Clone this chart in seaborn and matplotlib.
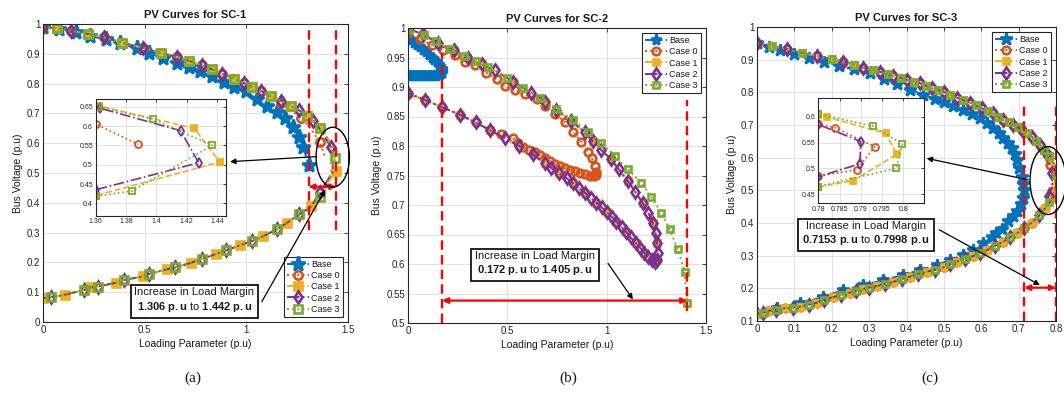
import matplotlib
matplotlib.use("Agg")
import matplotlib.pyplot as plt
from matplotlib.patches import Ellipse
from matplotlib.ticker import FuncFormatter
import seaborn as sns

# ---------------------------------------------------------------- data
NAMES = ["Base", "Case 0", "Case 1", "Case 2", "Case 3"]

# SC-1
A_BASE_X = [0.00, 0.08, 0.16, 0.23, 0.31, 0.38, 0.46, 0.52, 0.59, 0.66, 0.72, 0.77,
            0.83, 0.89, 0.94, 1.00, 1.05, 1.10, 1.15, 1.19, 1.23, 1.26, 1.28, 1.306]
A_BASE_Y = [0.990, 0.983, 0.972, 0.960, 0.948, 0.935, 0.918, 0.902, 0.885, 0.868, 0.855, 0.842,
            0.826, 0.806, 0.790, 0.774, 0.748, 0.725, 0.705, 0.683, 0.655, 0.622, 0.587, 0.527]
A_UP_X = [0.00, 0.07, 0.14, 0.22, 0.30, 0.39, 0.49, 0.58, 0.66, 0.72, 0.78, 0.83,
          0.88, 0.94, 0.99, 1.03, 1.07, 1.12, 1.17, 1.22, 1.26, 1.30, 1.33]
A_UP_Y = [0.990, 0.985, 0.977, 0.967, 0.955, 0.937, 0.920, 0.903, 0.889, 0.876, 0.862, 0.848,
          0.833, 0.817, 0.801, 0.788, 0.776, 0.757, 0.743, 0.724, 0.710, 0.692, 0.675]
A_C0_SPLIT = 18
A_C0_TAIL_X = [1.17, 1.22, 1.27, 1.31, 1.36, 1.388]
A_C0_TAIL_Y = [0.735, 0.710, 0.684, 0.655, 0.605, 0.553]
A_C1_NOSE_X = [1.362, 1.425, 1.442, 1.360]
A_C1_NOSE_Y = [0.652, 0.594, 0.507, 0.420]
A_C2_NOSE_X = [1.363, 1.416, 1.428, 1.360]
A_C2_NOSE_Y = [0.646, 0.588, 0.505, 0.435]
A_C3_NOSE_X = [1.362, 1.398, 1.437, 1.384, 1.360]
A_C3_NOSE_Y = [0.650, 0.618, 0.550, 0.432, 0.418]
A_LOW_X = [1.32, 1.26, 1.20, 1.15, 1.08, 1.03, 0.97, 0.90, 0.85, 0.78, 0.73, 0.65,
           0.61, 0.52, 0.49, 0.40, 0.36, 0.27, 0.23, 0.20, 0.11, 0.04, 0.00]
A_LOW_Y = [0.388, 0.361, 0.333, 0.311, 0.287, 0.272, 0.258, 0.240, 0.228, 0.211, 0.199, 0.183,
           0.177, 0.161, 0.153, 0.141, 0.132, 0.119, 0.116, 0.107, 0.092, 0.083, 0.080]
A_MARGIN = (1.306, 1.442)

# SC-2
B_BASE_X = [0.000, 0.015, 0.030, 0.045, 0.060, 0.075, 0.090, 0.105, 0.120, 0.133, 0.145, 0.155,
            0.163, 0.169, 0.172, 0.170, 0.164, 0.155, 0.143, 0.130, 0.115, 0.100, 0.085, 0.070,
            0.055, 0.040, 0.025, 0.010, 0.000]
B_BASE_Y = [0.983, 0.979, 0.975, 0.971, 0.967, 0.963, 0.959, 0.955, 0.950, 0.946, 0.942, 0.938,
            0.934, 0.931, 0.927, 0.924, 0.922, 0.920, 0.919, 0.918, 0.918, 0.918, 0.918, 0.918,
            0.918, 0.918, 0.918, 0.918, 0.918]
B_C0_X = [0.000, 0.060, 0.119, 0.177, 0.236, 0.286, 0.337, 0.395, 0.446, 0.487, 0.538, 0.588,
          0.647, 0.688, 0.739, 0.789, 0.831, 0.873, 0.906, 0.925, 0.940, 0.948, 0.946, 0.935,
          0.915, 0.889, 0.864, 0.839, 0.814, 0.789, 0.764, 0.739, 0.713, 0.688, 0.663, 0.638,
          0.609, 0.580, 0.555, 0.529, 0.470, 0.412, 0.340, 0.261, 0.170, 0.085, 0.000]
B_C0_Y = [0.991, 0.981, 0.971, 0.963, 0.954, 0.943, 0.937, 0.924, 0.913, 0.902, 0.895, 0.888,
          0.879, 0.868, 0.855, 0.841, 0.824, 0.807, 0.790, 0.779, 0.766, 0.756, 0.751, 0.749,
          0.750, 0.753, 0.755, 0.758, 0.760, 0.763, 0.766, 0.770, 0.774, 0.779, 0.784, 0.789,
          0.794, 0.799, 0.805, 0.813, 0.820, 0.827, 0.840, 0.853, 0.866, 0.878, 0.888]
B_C12_X = [0.000, 0.077, 0.152, 0.230, 0.303, 0.370, 0.437, 0.530, 0.621, 0.690, 0.747, 0.820,
           0.889, 0.930, 0.973, 1.020, 1.060, 1.107, 1.145, 1.182, 1.210, 1.233, 1.246, 1.254,
           1.258, 1.255, 1.245,
           1.230, 1.210, 1.190, 1.170, 1.149, 1.120, 1.099, 1.075, 1.049, 1.025, 1.000, 0.975,
           0.948, 0.920, 0.890, 0.860, 0.830, 0.800, 0.760, 0.720, 0.688, 0.630, 0.560, 0.487,
           0.412, 0.340, 0.261, 0.170, 0.085, 0.000]
B_C12_Y = [0.999, 0.989, 0.975, 0.962, 0.950, 0.939, 0.928, 0.909, 0.890, 0.875, 0.861, 0.843,
           0.823, 0.808, 0.793, 0.778, 0.761, 0.740, 0.722, 0.703, 0.687, 0.669, 0.652, 0.635,
           0.618, 0.606, 0.603,
           0.606, 0.612, 0.619, 0.627, 0.635, 0.645, 0.654, 0.663, 0.672, 0.680, 0.688, 0.696,
           0.704, 0.712, 0.721, 0.729, 0.737, 0.745, 0.754, 0.763, 0.771, 0.786, 0.800, 0.813,
           0.827, 0.840, 0.853, 0.866, 0.878, 0.890]
B_C3_X = [0.000, 0.080, 0.140, 0.211, 0.280, 0.340, 0.404, 0.496, 0.580, 0.663, 0.747, 0.831,
          0.906, 0.973, 1.040, 1.107, 1.171, 1.225, 1.275, 1.317, 1.358, 1.392, 1.405]
B_C3_Y = [0.997, 0.988, 0.978, 0.964, 0.953, 0.944, 0.934, 0.916, 0.899, 0.881, 0.862, 0.844,
          0.824, 0.805, 0.783, 0.761, 0.738, 0.714, 0.687, 0.659, 0.625, 0.587, 0.534]
B_MARGIN = (0.172, 1.405)

# SC-3
C_BASE_X = [0.000, 0.031, 0.062, 0.100, 0.140, 0.180, 0.220, 0.260, 0.302, 0.340, 0.374, 0.410,
            0.445, 0.475, 0.499, 0.525, 0.552, 0.575, 0.597, 0.615, 0.632, 0.647, 0.659, 0.671,
            0.681, 0.689, 0.695, 0.702, 0.708, 0.712, 0.7153,
            0.713, 0.706, 0.696, 0.684, 0.672, 0.655, 0.640, 0.628, 0.606, 0.579, 0.552, 0.516,
            0.481, 0.436, 0.391, 0.338, 0.284, 0.231, 0.177, 0.115, 0.053, 0.000]
C_BASE_Y = [0.950, 0.940, 0.929, 0.918, 0.906, 0.894, 0.882, 0.870, 0.858, 0.842, 0.825, 0.808,
            0.792, 0.780, 0.770, 0.758, 0.746, 0.733, 0.720, 0.705, 0.690, 0.675, 0.659, 0.644,
            0.629, 0.611, 0.593, 0.567, 0.542, 0.520, 0.500,
            0.478, 0.458, 0.437, 0.421, 0.407, 0.381, 0.368, 0.358, 0.338, 0.317, 0.302, 0.287,
            0.271, 0.256, 0.241, 0.225, 0.210, 0.195, 0.174, 0.154, 0.139, 0.124]
C_UP_X = [0.000, 0.040, 0.079, 0.120, 0.160, 0.200, 0.231, 0.260, 0.284, 0.310, 0.329, 0.350,
          0.365, 0.385, 0.400, 0.420, 0.436, 0.452, 0.467, 0.485, 0.499, 0.517, 0.534, 0.552,
          0.570, 0.585, 0.601, 0.617, 0.632, 0.646, 0.659, 0.673, 0.686, 0.697, 0.708, 0.722,
          0.735, 0.747, 0.757, 0.767, 0.775]
C_UP_Y = [0.950, 0.941, 0.932, 0.921, 0.911, 0.902, 0.894, 0.884, 0.875, 0.868, 0.863, 0.856,
          0.850, 0.844, 0.838, 0.833, 0.828, 0.820, 0.812, 0.807, 0.802, 0.793, 0.784, 0.776,
          0.768, 0.760, 0.751, 0.744, 0.736, 0.726, 0.715, 0.708, 0.700, 0.693, 0.685, 0.675,
          0.664, 0.652, 0.639, 0.624, 0.610]
C_C0_NOSE_X = [0.780, 0.7839, 0.7933, 0.789, 0.780]
C_C0_NOSE_Y = [0.586, 0.579, 0.542, 0.497, 0.4855]
C_C1_NOSE_X = [0.780, 0.782, 0.7959, 0.7985, 0.7882, 0.780]
C_C1_NOSE_Y = [0.603, 0.599, 0.568, 0.527, 0.4765, 0.464]
C_C2_NOSE_X = [0.780, 0.790, 0.7898, 0.780]
C_C2_NOSE_Y = [0.585, 0.552, 0.509, 0.484]
C_C3_NOSE_X = [0.780, 0.7929, 0.7998, 0.7983, 0.780]
C_C3_NOSE_Y = [0.605, 0.582, 0.547, 0.500, 0.465]
C_LOW_X = [0.771, 0.755, 0.735, 0.715, 0.695, 0.677, 0.659, 0.637, 0.615, 0.597, 0.579, 0.557,
           0.534, 0.517, 0.499, 0.477, 0.454, 0.430, 0.410, 0.388, 0.365, 0.343, 0.321, 0.300,
           0.284, 0.265, 0.249, 0.225, 0.204, 0.180, 0.160, 0.138, 0.115, 0.095, 0.075, 0.050,
           0.030, 0.015, 0.000]
C_LOW_Y = [0.445, 0.423, 0.401, 0.385, 0.368, 0.356, 0.343, 0.330, 0.317, 0.308, 0.299, 0.290,
           0.282, 0.273, 0.264, 0.257, 0.251, 0.243, 0.236, 0.228, 0.220, 0.213, 0.207, 0.202,
           0.197, 0.192, 0.187, 0.180, 0.173, 0.165, 0.156, 0.150, 0.144, 0.141, 0.139, 0.135,
           0.131, 0.126, 0.121]
C_MARGIN = (0.7153, 0.7998)

# axis ticks
A_XTICKS = [0, 0.5, 1, 1.5]
A_YTICKS = [0, 0.1, 0.2, 0.3, 0.4, 0.5, 0.6, 0.7, 0.8, 0.9, 1]
B_XTICKS = [0, 0.5, 1, 1.5]
B_YTICKS = [0.5, 0.55, 0.6, 0.65, 0.7, 0.75, 0.8, 0.85, 0.9, 0.95, 1]
C_XTICKS = [0, 0.1, 0.2, 0.3, 0.4, 0.5, 0.6, 0.7, 0.8]
C_YTICKS = [0.1, 0.2, 0.3, 0.4, 0.5, 0.6, 0.7, 0.8, 0.9, 1]
AI_XTICKS = [1.36, 1.38, 1.40, 1.42, 1.44]
AI_YTICKS = [0.4, 0.45, 0.5, 0.55, 0.6, 0.65]
CI_XTICKS = [0.78, 0.785, 0.79, 0.795, 0.8]
CI_YTICKS = [0.45, 0.5, 0.55, 0.6]

# ---------------------------------------------------------------- style
sns.set_theme(style="whitegrid")
plt.rcParams.update({
    "font.family": ["Liberation Sans", "DejaVu Sans"],
    "mathtext.fontset": "custom",
    "mathtext.rm": "Liberation Sans",
    "mathtext.it": "Liberation Sans:italic",
    "mathtext.bf": "Liberation Sans:bold",
    "axes.edgecolor": "#262626",
    "text.color": "#1a1a1a",
    "axes.labelcolor": "#1a1a1a",
})

COLORS = {"Base": "#0072BD", "Case 0": "#D95319", "Case 1": "#EDB120",
          "Case 2": "#7E2F8E", "Case 3": "#77AC30"}
LSTYLE = {"Base": "--", "Case 0": ":", "Case 1": "--", "Case 2": "-.", "Case 3": ":"}
MARKER = {"Base": "*", "Case 0": "o", "Case 1": "s", "Case 2": "d", "Case 3": "s"}
FILLED = {"Base": True, "Case 0": False, "Case 1": True, "Case 2": False, "Case 3": False}

W, H = 1064, 393
fig = plt.figure(figsize=(W / 100, H / 100), dpi=100)


def px_axes(left, top, right, bottom):
    return fig.add_axes([left / W, 1 - bottom / H, (right - left) / W, (bottom - top) / H])


def curve(ax, x, y, name, ms, every=None, label=True, lw=1.4, mew=1.9):
    c = COLORS[name]
    sns.lineplot(x=x, y=y, ax=ax, sort=False, estimator=None,
                 color=c, linestyle=LSTYLE[name], linewidth=lw,
                 marker=MARKER[name], markersize=ms,
                 markerfacecolor=c if FILLED[name] else "none",
                 markeredgecolor=c, markeredgewidth=mew,
                 markevery=every, label=name if label else "_nolegend_")
    return ax.lines[-1]


def style_axes(ax, xlim, ylim, xticks, yticks, fs=7, tl=3):
    ax.set_xlim(*xlim)
    ax.set_ylim(*ylim)
    ax.set_xticks(xticks)
    ax.set_yticks(yticks)
    fmt = FuncFormatter(lambda v, p: f"{v:g}")
    ax.xaxis.set_major_formatter(fmt)
    ax.yaxis.set_major_formatter(fmt)
    ax.tick_params(labelsize=fs, direction="in", top=True, right=True, length=tl,
                   width=0.6, pad=2, colors="#262626")
    ax.grid(True, color="#dddddd", linewidth=0.6)
    ax.set_facecolor("white")
    for s in ax.spines.values():
        s.set_visible(True)
        s.set_color("#262626")
        s.set_linewidth(0.8)


def labels(ax, title):
    ax.set_title(title, fontsize=8, fontweight="bold", pad=4)
    ax.set_xlabel("Loading Parameter (p.u)", fontsize=7.5, labelpad=3)
    ax.set_ylabel("Bus Voltage (p.u)", fontsize=7.5, labelpad=3)


def legend(ax, handles, loc):
    leg = ax.legend(handles=handles, labels=NAMES, loc=loc, fontsize=6.5, frameon=True,
                    fancybox=False, edgecolor="#262626", framealpha=1, borderpad=0.3,
                    labelspacing=0.25, handlelength=2.4, handletextpad=0.3,
                    borderaxespad=0.6)
    leg.get_frame().set_linewidth(0.8)


def margin(ax, lo, hi, lo_span, hi_span, y_arrow):
    for xv, (y0, y1) in ((lo, lo_span), (hi, hi_span)):
        ax.plot([xv, xv], [y0, y1], color="red", linestyle=(0, (4, 2.2)),
                linewidth=1.7, zorder=5)
    ax.annotate("", xy=(hi, y_arrow), xytext=(lo, y_arrow), zorder=6,
                arrowprops=dict(arrowstyle="<|-|>", color="red", lw=1.6,
                                mutation_scale=8, shrinkA=0, shrinkB=0))


def margin_box(ax, xy, lo, hi, digits, start, tip):
    txt = ("Increase in Load Margin\n"
           + rf"$\mathbf{{{lo:.{digits}f}\ p.u}}$ to $\mathbf{{{hi:.{digits}f}\ p.u}}$")
    ax.annotate("", xy=tip, xytext=start, zorder=7,
                arrowprops=dict(arrowstyle="-|>", color="black", lw=0.9,
                                mutation_scale=8, shrinkA=0, shrinkB=0))
    ax.text(*xy, txt, ha="center", va="center", fontsize=8, zorder=8,
            multialignment="center", linespacing=1.25,
            bbox=dict(boxstyle="square,pad=0.35", fc="white", ec="black", lw=1.2))


def pointer(ax, center, w, h, start, tip):
    ax.add_patch(Ellipse(center, w, h, fill=False, ec="black", lw=1.0,
                         clip_on=False, zorder=7))
    ax.annotate("", xy=tip, xytext=start, zorder=7, annotation_clip=False,
                arrowprops=dict(arrowstyle="-|>", color="black", lw=0.9,
                                mutation_scale=8, shrinkA=0, shrinkB=0))


# ---------------------------------------------------------------- SC-1
ax_a = px_axes(43, 24, 348, 322)
a_series = {
    "Base": (A_BASE_X, A_BASE_Y),
    "Case 0": (A_UP_X[:A_C0_SPLIT] + A_C0_TAIL_X, A_UP_Y[:A_C0_SPLIT] + A_C0_TAIL_Y),
    "Case 1": (A_UP_X + A_C1_NOSE_X + A_LOW_X, A_UP_Y + A_C1_NOSE_Y + A_LOW_Y),
    "Case 2": (A_UP_X + A_C2_NOSE_X + A_LOW_X, A_UP_Y + A_C2_NOSE_Y + A_LOW_Y),
    "Case 3": (A_UP_X + A_C3_NOSE_X + A_LOW_X, A_UP_Y + A_C3_NOSE_Y + A_LOW_Y),
}
a_sizes = {"Base": 11, "Case 0": 6, "Case 1": 5.5, "Case 2": 6.5, "Case 3": 5.5}
a_every = {"Base": None, "Case 0": (0, 2), "Case 1": (1, 2), "Case 2": (0, 2), "Case 3": (1, 2)}
handles = [curve(ax_a, *a_series[n], n, a_sizes[n], a_every[n]) for n in NAMES]
style_axes(ax_a, (0, 1.5), (0, 1), A_XTICKS, A_YTICKS)
labels(ax_a, "PV Curves for SC-1")
legend(ax_a, handles, "lower right")
margin(ax_a, *A_MARGIN, (0.31, 1.0), (0.31, 1.0), 0.454)
margin_box(ax_a, (0.745, 0.072), *A_MARGIN, 3, (1.076, 0.068), (1.387, 0.443))
pointer(ax_a, (1.425, 0.553), 0.164, 0.201, (1.346, 0.555), (0.92, 0.538))

ins_a = px_axes(95.7, 99, 226, 215.7)
for n in NAMES[1:]:
    curve(ins_a, *a_series[n], n, a_sizes[n] - 1, None, label=False, lw=1.2, mew=1.3)
style_axes(ins_a, (1.36, 1.446), (0.368, 0.67), AI_XTICKS, AI_YTICKS, fs=5, tl=2)
if ins_a.get_legend():
    ins_a.get_legend().remove()

# ---------------------------------------------------------------- SC-2
ax_b = px_axes(408, 28, 706, 323)
b_series = {
    "Base": (B_BASE_X, B_BASE_Y),
    "Case 0": (B_C0_X, B_C0_Y),
    "Case 1": (B_C12_X, B_C12_Y),
    "Case 2": (B_C12_X, B_C12_Y),
    "Case 3": (B_C3_X, B_C3_Y),
}
b_sizes = {"Base": 8, "Case 0": 5.5, "Case 1": 5, "Case 2": 6, "Case 3": 5}
b_every = {"Base": None, "Case 0": None, "Case 1": (1, 2), "Case 2": None, "Case 3": None}
handles = [curve(ax_b, *b_series[n], n, b_sizes[n], b_every[n]) for n in NAMES]
style_axes(ax_b, (0, 1.5), (0.5, 1), B_XTICKS, B_YTICKS)
labels(ax_b, "PV Curves for SC-2")
legend(ax_b, handles, "upper right")
margin(ax_b, *B_MARGIN, (0.5, 0.958), (0.52, 0.878), 0.538)
margin_box(ax_b, (0.64, 0.60), *B_MARGIN, 3, (1.007, 0.601), (1.132, 0.540))

# ---------------------------------------------------------------- SC-3
ax_c = px_axes(757, 27, 1056, 321)
c_series = {
    "Base": (C_BASE_X, C_BASE_Y),
    "Case 0": (C_UP_X + C_C0_NOSE_X + C_LOW_X, C_UP_Y + C_C0_NOSE_Y + C_LOW_Y),
    "Case 1": (C_UP_X + C_C1_NOSE_X + C_LOW_X, C_UP_Y + C_C1_NOSE_Y + C_LOW_Y),
    "Case 2": (C_UP_X + C_C2_NOSE_X + C_LOW_X, C_UP_Y + C_C2_NOSE_Y + C_LOW_Y),
    "Case 3": (C_UP_X + C_C3_NOSE_X + C_LOW_X, C_UP_Y + C_C3_NOSE_Y + C_LOW_Y),
}
c_sizes = {"Base": 9, "Case 0": 5.5, "Case 1": 5, "Case 2": 6, "Case 3": 5}
c_every = {"Base": None, "Case 0": (0, 2), "Case 1": (1, 2), "Case 2": (0, 2), "Case 3": (1, 2)}
handles = [curve(ax_c, *c_series[n], n, c_sizes[n], c_every[n]) for n in NAMES]
style_axes(ax_c, (0, 0.8), (0.1, 1), C_XTICKS, C_YTICKS)
labels(ax_c, "PV Curves for SC-3")
legend(ax_c, handles, "upper right")
margin(ax_c, *C_MARGIN, (0.1, 0.761), (0.1, 0.761), 0.202)
margin_box(ax_c, (0.2916, 0.366), *C_MARGIN, 4, (0.488, 0.379), (0.757, 0.210))
pointer(ax_c, (0.7786, 0.530), 0.0963, 0.208, (0.726, 0.532), (0.454, 0.598))

ins_c = px_axes(818.3, 98.3, 924, 203.3)
for n in NAMES[1:]:
    curve(ins_c, *c_series[n], n, c_sizes[n] - 0.5, None, label=False, lw=1.2, mew=1.3)
style_axes(ins_c, (0.78, 0.8049), (0.4326, 0.6355), CI_XTICKS, CI_YTICKS, fs=5, tl=2)
if ins_c.get_legend():
    ins_c.get_legend().remove()

# ---------------------------------------------------------------- captions
for x, cap in ((193, "(a)"), (568, "(b)"), (930, "(c)")):
    fig.text(x / W, 1 - 378 / H, cap, ha="center", va="center", fontsize=11,
             family=["Liberation Serif", "DejaVu Serif"], color="#1a1a1a")

fig.savefig("out.png", dpi=100, facecolor="white")
